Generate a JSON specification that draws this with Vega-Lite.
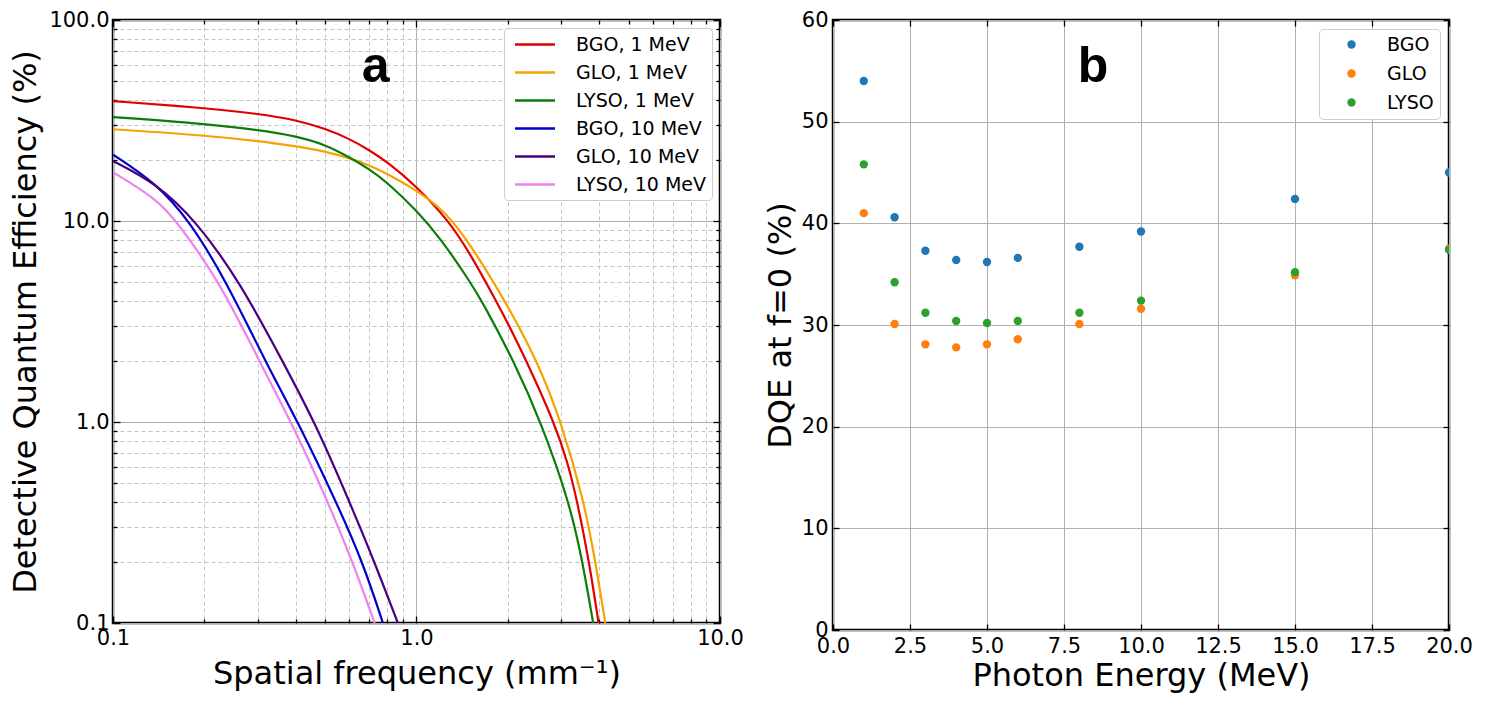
{
  "$schema": "https://vega.github.io/schema/vega-lite/v6.json",
  "background": "white",
  "padding": {"left": 7, "top": 7, "right": 5, "bottom": 5},
  "spacing": 113,
  "bounds": "flush",
  "resolve": {"scale": {"color": "independent"}, "legend": {"color": "independent"}},
  "config": {
    "view": {"stroke": "black", "strokeWidth": 2.5},
    "axis": {
      "labelFont": "DejaVu Sans", "labelFontSize": 21, "labelColor": "black",
      "titleFont": "DejaVu Sans", "titleFontSize": 32, "titleFontWeight": "normal", "titleColor": "black",
      "tickColor": "black", "tickSize": -6, "tickWidth": 1.3, "domain": false,
      "labelOverlap": false, "labelFlush": false, "labelPadding": 11,
      "gridColor": "#b0b0b0", "gridWidth": 1
    },
    "legend": {
      "labelFont": "DejaVu Sans", "labelFontSize": 19, "labelColor": "black",
      "strokeColor": "#cccccc", "fillColor": "white", "cornerRadius": 4
    }
  },
  "datasets": {
    "curves": [
      {"f": 0.1, "dqe": 39.5, "s": "BGO, 1 MeV"},
      {"f": 0.2, "dqe": 36.5, "s": "BGO, 1 MeV"},
      {"f": 0.3, "dqe": 34.2, "s": "BGO, 1 MeV"},
      {"f": 0.4, "dqe": 31.9, "s": "BGO, 1 MeV"},
      {"f": 0.5, "dqe": 28.8, "s": "BGO, 1 MeV"},
      {"f": 0.6, "dqe": 25.7, "s": "BGO, 1 MeV"},
      {"f": 0.7, "dqe": 22.5, "s": "BGO, 1 MeV"},
      {"f": 0.8, "dqe": 19.7, "s": "BGO, 1 MeV"},
      {"f": 1.0, "dqe": 14.9, "s": "BGO, 1 MeV"},
      {"f": 1.28, "dqe": 10.0, "s": "BGO, 1 MeV"},
      {"f": 1.5, "dqe": 6.9, "s": "BGO, 1 MeV"},
      {"f": 1.83, "dqe": 4.0, "s": "BGO, 1 MeV"},
      {"f": 2.0, "dqe": 3.1, "s": "BGO, 1 MeV"},
      {"f": 2.29, "dqe": 2.05, "s": "BGO, 1 MeV"},
      {"f": 2.84, "dqe": 1.0, "s": "BGO, 1 MeV"},
      {"f": 3.15, "dqe": 0.63, "s": "BGO, 1 MeV"},
      {"f": 3.39, "dqe": 0.4, "s": "BGO, 1 MeV"},
      {"f": 3.71, "dqe": 0.2, "s": "BGO, 1 MeV"},
      {"f": 3.98, "dqe": 0.1, "s": "BGO, 1 MeV"},
      {"f": 0.1, "dqe": 28.6, "s": "GLO, 1 MeV"},
      {"f": 0.2, "dqe": 26.7, "s": "GLO, 1 MeV"},
      {"f": 0.3, "dqe": 25.0, "s": "GLO, 1 MeV"},
      {"f": 0.4, "dqe": 23.6, "s": "GLO, 1 MeV"},
      {"f": 0.5, "dqe": 22.2, "s": "GLO, 1 MeV"},
      {"f": 0.6, "dqe": 20.6, "s": "GLO, 1 MeV"},
      {"f": 0.7, "dqe": 18.9, "s": "GLO, 1 MeV"},
      {"f": 0.8, "dqe": 17.2, "s": "GLO, 1 MeV"},
      {"f": 1.0, "dqe": 14.2, "s": "GLO, 1 MeV"},
      {"f": 1.19, "dqe": 11.7, "s": "GLO, 1 MeV"},
      {"f": 1.31, "dqe": 10.0, "s": "GLO, 1 MeV"},
      {"f": 1.5, "dqe": 7.7, "s": "GLO, 1 MeV"},
      {"f": 1.97, "dqe": 3.95, "s": "GLO, 1 MeV"},
      {"f": 2.51, "dqe": 1.99, "s": "GLO, 1 MeV"},
      {"f": 3.0, "dqe": 1.0, "s": "GLO, 1 MeV"},
      {"f": 3.57, "dqe": 0.4, "s": "GLO, 1 MeV"},
      {"f": 3.89, "dqe": 0.2, "s": "GLO, 1 MeV"},
      {"f": 4.19, "dqe": 0.1, "s": "GLO, 1 MeV"},
      {"f": 0.1, "dqe": 32.9, "s": "LYSO, 1 MeV"},
      {"f": 0.2, "dqe": 30.5, "s": "LYSO, 1 MeV"},
      {"f": 0.3, "dqe": 28.4, "s": "LYSO, 1 MeV"},
      {"f": 0.4, "dqe": 26.5, "s": "LYSO, 1 MeV"},
      {"f": 0.5, "dqe": 24.0, "s": "LYSO, 1 MeV"},
      {"f": 0.6, "dqe": 20.8, "s": "LYSO, 1 MeV"},
      {"f": 0.7, "dqe": 18.1, "s": "LYSO, 1 MeV"},
      {"f": 0.8, "dqe": 15.6, "s": "LYSO, 1 MeV"},
      {"f": 1.0, "dqe": 11.3, "s": "LYSO, 1 MeV"},
      {"f": 1.2, "dqe": 8.2, "s": "LYSO, 1 MeV"},
      {"f": 1.5, "dqe": 5.0, "s": "LYSO, 1 MeV"},
      {"f": 1.65, "dqe": 3.95, "s": "LYSO, 1 MeV"},
      {"f": 2.1, "dqe": 1.99, "s": "LYSO, 1 MeV"},
      {"f": 2.57, "dqe": 1.0, "s": "LYSO, 1 MeV"},
      {"f": 3.19, "dqe": 0.4, "s": "LYSO, 1 MeV"},
      {"f": 3.53, "dqe": 0.2, "s": "LYSO, 1 MeV"},
      {"f": 3.82, "dqe": 0.1, "s": "LYSO, 1 MeV"},
      {"f": 0.1, "dqe": 21.4, "s": "BGO, 10 MeV"},
      {"f": 0.139, "dqe": 15.4, "s": "BGO, 10 MeV"},
      {"f": 0.179, "dqe": 10.0, "s": "BGO, 10 MeV"},
      {"f": 0.237, "dqe": 4.97, "s": "BGO, 10 MeV"},
      {"f": 0.318, "dqe": 1.99, "s": "BGO, 10 MeV"},
      {"f": 0.407, "dqe": 1.0, "s": "BGO, 10 MeV"},
      {"f": 0.544, "dqe": 0.4, "s": "BGO, 10 MeV"},
      {"f": 0.666, "dqe": 0.2, "s": "BGO, 10 MeV"},
      {"f": 0.775, "dqe": 0.1, "s": "BGO, 10 MeV"},
      {"f": 0.1, "dqe": 19.9, "s": "GLO, 10 MeV"},
      {"f": 0.139, "dqe": 15.4, "s": "GLO, 10 MeV"},
      {"f": 0.188, "dqe": 10.0, "s": "GLO, 10 MeV"},
      {"f": 0.262, "dqe": 4.97, "s": "GLO, 10 MeV"},
      {"f": 0.363, "dqe": 1.99, "s": "GLO, 10 MeV"},
      {"f": 0.462, "dqe": 1.0, "s": "GLO, 10 MeV"},
      {"f": 0.602, "dqe": 0.4, "s": "GLO, 10 MeV"},
      {"f": 0.728, "dqe": 0.2, "s": "GLO, 10 MeV"},
      {"f": 0.868, "dqe": 0.1, "s": "GLO, 10 MeV"},
      {"f": 0.1, "dqe": 17.5, "s": "LYSO, 10 MeV"},
      {"f": 0.139, "dqe": 12.9, "s": "LYSO, 10 MeV"},
      {"f": 0.162, "dqe": 10.0, "s": "LYSO, 10 MeV"},
      {"f": 0.225, "dqe": 4.97, "s": "LYSO, 10 MeV"},
      {"f": 0.304, "dqe": 1.99, "s": "LYSO, 10 MeV"},
      {"f": 0.387, "dqe": 1.0, "s": "LYSO, 10 MeV"},
      {"f": 0.511, "dqe": 0.4, "s": "LYSO, 10 MeV"},
      {"f": 0.617, "dqe": 0.2, "s": "LYSO, 10 MeV"},
      {"f": 0.728, "dqe": 0.1, "s": "LYSO, 10 MeV"}
    ],
    "pts": [
      {"E": 1, "dqe": 54.0, "m": "BGO"}, {"E": 2, "dqe": 40.6, "m": "BGO"}, {"E": 3, "dqe": 37.3, "m": "BGO"},
      {"E": 4, "dqe": 36.4, "m": "BGO"}, {"E": 5, "dqe": 36.2, "m": "BGO"}, {"E": 6, "dqe": 36.6, "m": "BGO"},
      {"E": 8, "dqe": 37.7, "m": "BGO"}, {"E": 10, "dqe": 39.2, "m": "BGO"}, {"E": 15, "dqe": 42.4, "m": "BGO"},
      {"E": 20, "dqe": 45.0, "m": "BGO"},
      {"E": 1, "dqe": 41.0, "m": "GLO"}, {"E": 2, "dqe": 30.1, "m": "GLO"}, {"E": 3, "dqe": 28.1, "m": "GLO"},
      {"E": 4, "dqe": 27.8, "m": "GLO"}, {"E": 5, "dqe": 28.1, "m": "GLO"}, {"E": 6, "dqe": 28.6, "m": "GLO"},
      {"E": 8, "dqe": 30.1, "m": "GLO"}, {"E": 10, "dqe": 31.6, "m": "GLO"}, {"E": 15, "dqe": 34.9, "m": "GLO"},
      {"E": 20, "dqe": 37.5, "m": "GLO"},
      {"E": 1, "dqe": 45.8, "m": "LYSO"}, {"E": 2, "dqe": 34.2, "m": "LYSO"}, {"E": 3, "dqe": 31.2, "m": "LYSO"},
      {"E": 4, "dqe": 30.4, "m": "LYSO"}, {"E": 5, "dqe": 30.2, "m": "LYSO"}, {"E": 6, "dqe": 30.4, "m": "LYSO"},
      {"E": 8, "dqe": 31.2, "m": "LYSO"}, {"E": 10, "dqe": 32.4, "m": "LYSO"}, {"E": 15, "dqe": 35.2, "m": "LYSO"},
      {"E": 20, "dqe": 37.4, "m": "LYSO"}
    ],
    "labA": [{"f": 0.733, "dqe": 49.1, "t": "a"}],
    "labB": [{"E": 8.44, "dqe": 53.9, "t": "b"}]
  },
  "hconcat": [
    {
      "width": 607,
      "height": 603,
      "layer": [
        {
          "data": {"name": "curves"},
          "mark": {"type": "line", "strokeWidth": 2.2, "clip": true, "interpolate": "basis"},
          "encoding": {
            "x": {
              "field": "f", "type": "quantitative",
              "scale": {"type": "log", "domain": [0.1, 10], "nice": false},
              "axis": {
                "orient": "bottom",
                "values": [0.1, 0.2, 0.3, 0.4, 0.5, 0.6, 0.7, 0.8, 0.9, 1, 2, 3, 4, 5, 6, 7, 8, 9, 10],
                "labelExpr": "abs(log(datum.value)/LN10 - round(log(datum.value)/LN10)) < 0.001 ? format(datum.value, '.1f') : ''",
                "grid": true,
                "gridDash": {"condition": {"test": "abs(log(datum.value)/LN10 - round(log(datum.value)/LN10)) < 0.001", "value": []}, "value": [4, 3]},
                "gridColor": {"condition": {"test": "abs(log(datum.value)/LN10 - round(log(datum.value)/LN10)) < 0.001", "value": "#b0b0b0"}, "value": "#c4c4c4"},
                "tickSize": {"condition": {"test": "abs(log(datum.value)/LN10 - round(log(datum.value)/LN10)) < 0.001", "value": -7}, "value": -4},
                "title": "Spatial frequency (mm⁻¹)",
                "titleY": 60, "titleBaseline": "alphabetic"
              }
            },
            "y": {
              "field": "dqe", "type": "quantitative",
              "scale": {"type": "log", "domain": [0.1, 100], "nice": false},
              "axis": {
                "orient": "left",
                "values": [0.1, 0.2, 0.3, 0.4, 0.5, 0.6, 0.7, 0.8, 0.9, 1, 2, 3, 4, 5, 6, 7, 8, 9, 10, 20, 30, 40, 50, 60, 70, 80, 90, 100],
                "labelExpr": "abs(log(datum.value)/LN10 - round(log(datum.value)/LN10)) < 0.001 ? format(datum.value, '.1f') : ''",
                "grid": true,
                "gridDash": {"condition": {"test": "abs(log(datum.value)/LN10 - round(log(datum.value)/LN10)) < 0.001", "value": []}, "value": [4, 3]},
                "gridColor": {"condition": {"test": "abs(log(datum.value)/LN10 - round(log(datum.value)/LN10)) < 0.001", "value": "#b0b0b0"}, "value": "#c4c4c4"},
                "tickSize": {"condition": {"test": "abs(log(datum.value)/LN10 - round(log(datum.value)/LN10)) < 0.001", "value": -7}, "value": -4},
                "title": "Detective Quantum Efficiency (%)",
                "titleX": -78, "titleBaseline": "alphabetic"
              }
            },
            "color": {
              "field": "s", "type": "nominal",
              "scale": {
                "domain": ["BGO, 1 MeV", "GLO, 1 MeV", "LYSO, 1 MeV", "BGO, 10 MeV", "GLO, 10 MeV", "LYSO, 10 MeV"],
                "range": ["#e00000", "#f5a300", "#0a7d0a", "#0000cd", "#4b0082", "#ee82ee"]
              },
              "legend": {
                "title": null, "orient": "top-right", "offset": 8,
                "symbolType": "M-2,0L2,0", "symbolSize": 400, "symbolStrokeWidth": 2.5,
                "symbolOffset": 14.5, "labelOffset": 29.5, "padding": 5, "rowPadding": 6
              }
            }
          }
        },
        {
          "data": {"name": "labA"},
          "mark": {"type": "text", "font": "Liberation Sans", "fontWeight": "bold", "fontSize": 50, "baseline": "alphabetic", "align": "center", "color": "black"},
          "encoding": {
            "x": {
              "field": "f", "type": "quantitative",
              "axis": {
                "orient": "top", "labels": false, "grid": false, "title": null,
                "values": [0.1, 0.2, 0.3, 0.4, 0.5, 0.6, 0.7, 0.8, 0.9, 1, 2, 3, 4, 5, 6, 7, 8, 9, 10],
                "tickSize": {"condition": {"test": "abs(log(datum.value)/LN10 - round(log(datum.value)/LN10)) < 0.001", "value": -7}, "value": -4}
              }
            },
            "y": {
              "field": "dqe", "type": "quantitative",
              "axis": {
                "orient": "right", "labels": false, "grid": false, "title": null,
                "values": [0.1, 0.2, 0.3, 0.4, 0.5, 0.6, 0.7, 0.8, 0.9, 1, 2, 3, 4, 5, 6, 7, 8, 9, 10, 20, 30, 40, 50, 60, 70, 80, 90, 100],
                "tickSize": {"condition": {"test": "abs(log(datum.value)/LN10 - round(log(datum.value)/LN10)) < 0.001", "value": -7}, "value": -4}
              }
            },
            "text": {"field": "t"}
          }
        }
      ],
      "resolve": {"axis": {"x": "independent", "y": "independent"}}
    },
    {
      "width": 616,
      "height": 610,
      "layer": [
        {
          "data": {"name": "pts"},
          "mark": {"type": "point", "filled": true, "size": 70, "opacity": 1, "clip": true},
          "encoding": {
            "x": {
              "field": "E", "type": "quantitative",
              "scale": {"domain": [0, 20], "nice": false, "zero": false},
              "axis": {
                "orient": "bottom",
                "values": [0, 2.5, 5, 7.5, 10, 12.5, 15, 17.5, 20],
                "format": ".1f", "grid": true,
                "title": "Photon Energy (MeV)",
                "titleY": 55, "titleBaseline": "alphabetic"
              }
            },
            "y": {
              "field": "dqe", "type": "quantitative",
              "scale": {"domain": [0, 60], "nice": false},
              "axis": {
                "orient": "left",
                "values": [0, 10, 20, 30, 40, 50, 60],
                "format": "d", "grid": true,
                "title": "DQE at f=0 (%)",
                "titleX": -43, "titleBaseline": "alphabetic"
              }
            },
            "color": {
              "field": "m", "type": "nominal",
              "scale": {"domain": ["BGO", "GLO", "LYSO"], "range": ["#1f77b4", "#ff7f0e", "#2ca02c"]},
              "legend": {
                "title": null, "orient": "top-right", "offset": 9,
                "symbolType": "circle", "symbolSize": 70, "symbolOffset": 17,
                "labelOffset": 26, "padding": 6, "rowPadding": 9
              }
            }
          }
        },
        {
          "data": {"name": "labB"},
          "mark": {"type": "text", "font": "Liberation Sans", "fontWeight": "bold", "fontSize": 50, "baseline": "alphabetic", "align": "center", "color": "black"},
          "encoding": {
            "x": {
              "field": "E", "type": "quantitative",
              "axis": {"orient": "top", "labels": false, "grid": false, "title": null, "values": [0, 2.5, 5, 7.5, 10, 12.5, 15, 17.5, 20]}
            },
            "y": {
              "field": "dqe", "type": "quantitative",
              "axis": {"orient": "right", "labels": false, "grid": false, "title": null, "values": [0, 10, 20, 30, 40, 50, 60]}
            },
            "text": {"field": "t"}
          }
        }
      ],
      "resolve": {"axis": {"x": "independent", "y": "independent"}}
    }
  ]
}
